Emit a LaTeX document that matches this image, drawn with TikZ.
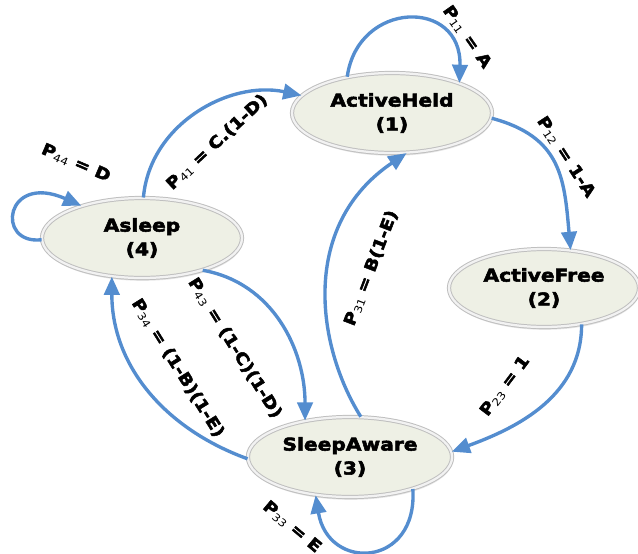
\documentclass[tikz,border=0pt]{standalone}
\usepackage{fontspec}
\usepackage{tikz}
\usetikzlibrary{arrows.meta,shapes.geometric,shadows}
\setmainfont{DejaVu Sans}[FakeStretch=1.15, BoldFeatures={FakeBold=3}]
\definecolor{arrowblue}{RGB}{84,141,207}
\definecolor{statefill}{RGB}{238,240,229}
\newcommand{\sub}[1]{{\fontsize{7.5}{8}\selectfont\mdseries\raisebox{-.35ex}{#1}}}
\tikzset{
  state/.style={ellipse, draw=gray!50, line width=.7pt, double=gray!10, double distance=1.6pt,
    fill=statefill, minimum width=5cm, minimum height=2cm, align=center,
    drop shadow={opacity=.2, shadow xshift=.5pt, shadow yshift=-2pt},
    font=\fontsize{12.5}{17}\selectfont\bfseries},
  trans/.style={arrowblue, line width=2.4pt, ->},
  lbl/.style={text=black, font=\fontsize{11.5}{12}\selectfont\bfseries, inner sep=1pt},
  >={Triangle[length=13pt,width=11pt]}
}

\begin{document}
\begin{tikzpicture}[x=0.025cm, y=-0.025cm]
  \useasboundingbox (0,0) rectangle (638,553);

  \node[state] (1) at (392,113) {ActiveHeld\\(1)};
  \node[state, minimum width=4.75cm, minimum height=1.95cm] (2) at (544,288) {ActiveFree\\(2)};
  \node[state] (3) at (350,457) {SleepAware\\(3)};
  \node[state] (4) at (142,238) {Asleep\\(4)};

  \draw[trans] (1.141) .. controls (358,0) and (462,-2) .. (1.24)
    node[lbl, rotate=-55] (p11) at (467,37) {P\sub{11} = A};
  \draw[trans] (1.-3) to[out=-15, in=95, looseness=1.2] (2.55)
    node[lbl, rotate=-57] (p12) at (566,157) {P\sub{12} = 1-A};
  \draw[trans] (2.-44) to[out=-90, in=20] (3.3)
    node[lbl, rotate=53] (p23) at (505,386) {P\sub{23} = 1};
  \draw[trans] (3.75) .. controls (316,345) and (300,225) .. (1.-70)
    node[lbl, rotate=69] (p31) at (371,268) {P\sub{31} = B(1-E)};
  \draw[trans] (3.-27) .. controls (418,568) and (328,572) .. (3.-132)
    node[lbl, rotate=-40] (p33) at (292,527) {P\sub{33} = E};
  \draw[trans] (3.181) to[out=160, in=-90] (4.-128)
    node[lbl, rotate=-58] (p34) at (178,368) {P\sub{34} = (1-B)(1-E)};
  \draw[trans] (4.-28) to[out=-10, in=90] (3.141)
    node[lbl, rotate=-58] (p43) at (235,348) {P\sub{43} = (1-C)(1-D)};
  \draw[trans] (4.88) to[out=85, in=168] (1.169)
    node[lbl, rotate=43] (p41) at (217,142) {P\sub{41} = C.(1-D)};
  \draw[trans] (4.181) .. controls (-5,245) and (5,172) .. (4.152)
    node[lbl, rotate=-23] (p44) at (76,163) {P\sub{44} = D};
\end{tikzpicture}
\end{document}
